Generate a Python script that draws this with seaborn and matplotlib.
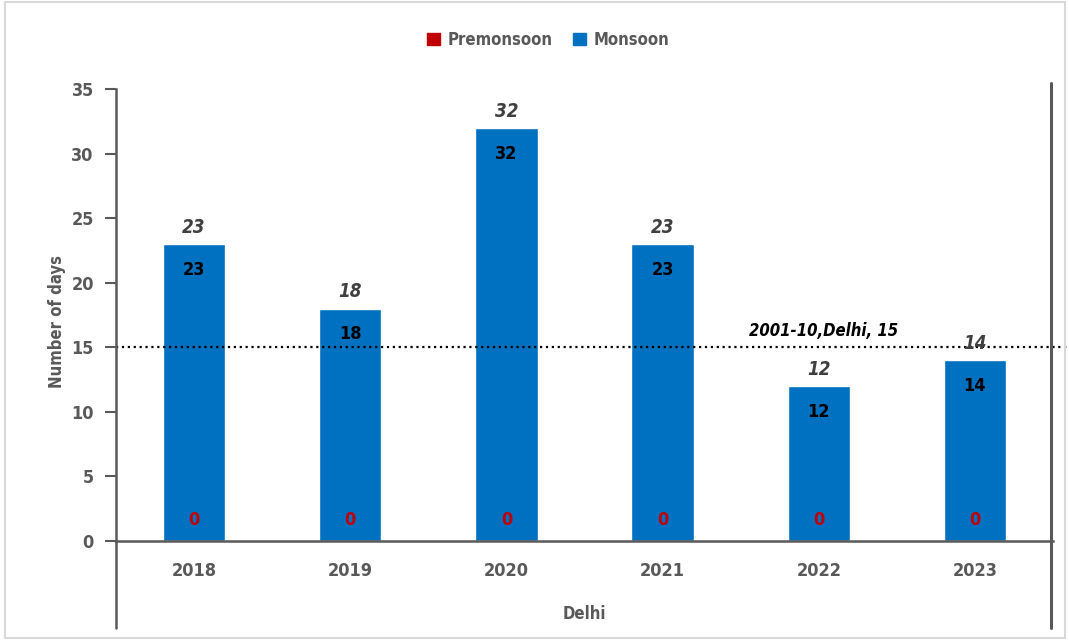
import pandas as pd
import numpy as np
import seaborn as sns
import matplotlib.pyplot as plt
from matplotlib.patches import Patch, Rectangle

years = ['2018', '2019', '2020', '2021', '2022', '2023']
premonsoon = [0, 0, 0, 0, 0, 0]
monsoon = [23, 18, 32, 23, 12, 14]
totals = [23, 18, 32, 23, 12, 14]
baseline = 15
baseline_label = '2001-10,Delhi, 15'

df = pd.DataFrame({'Year': years, 'Premonsoon': premonsoon, 'Monsoon': monsoon})

sns.set_style('white')
plt.rcParams['font.family'] = ['DejaVu Sans']
plt.rcParams['font.stretch'] = 'condensed'

blue = '#0070C0'
red = '#C00000'
grey = '#595959'

fig = plt.figure(figsize=(10.69, 6.42), dpi=100)
ax = fig.add_axes([116 / 1069, 101 / 642, 937 / 1069, 452 / 642])

sns.barplot(x='Year', y='Monsoon', data=df, color=blue, width=0.4, ax=ax,
            bottom=df['Premonsoon'], saturation=1)
sns.barplot(x='Year', y='Premonsoon', data=df, color=red, width=0.4, ax=ax, saturation=1)

ax.set_ylim(0, 35)
ax.set_xlim(-0.5, 5.5)
ax.set_yticks(range(0, 36, 5))

for i, (p, m, t) in enumerate(zip(premonsoon, monsoon, totals)):
    ax.text(i, p + m - 2.0, str(m), ha='center', va='center', fontsize=13,
            fontweight='bold', color='black')
    ax.text(i, 1.6, str(p), ha='center', va='center', fontsize=13,
            fontweight='bold', color=red)
    ax.text(i, t + 0.55, str(t), ha='center', va='bottom', fontsize=13.5,
            style='italic', fontweight='bold', color='#404040')

# baseline
ax.plot([0, 1.017], [baseline, baseline], transform=ax.get_yaxis_transform(),
        color='black', linestyle=':', linewidth=1.6, clip_on=False)
ax.text(4.03, baseline + 0.6, baseline_label, ha='center', va='bottom', fontsize=12,
        style='italic', fontweight='bold', color='black')

for s in ['top', 'right']:
    ax.spines[s].set_visible(False)
for s in ['left', 'bottom']:
    ax.spines[s].set_color(grey)
    ax.spines[s].set_linewidth(1.8)
ax.spines['left'].set_bounds(0, 35)

ax.tick_params(axis='y', length=8, width=1.5, color=grey, labelsize=13, labelcolor=grey,
               left=True, pad=8)
ax.tick_params(axis='x', length=0, labelsize=13, labelcolor=grey, pad=15)
for lab in ax.get_xticklabels() + ax.get_yticklabels():
    lab.set_fontweight('bold')

ax.set_xlabel('Delhi', fontsize=12, color=grey, fontweight='bold', labelpad=18)
ax.set_ylabel('Number of days', fontsize=12, color=grey, fontweight='bold')
ax.yaxis.set_label_coords(-0.053, 0.485)

# category group lines
fig.add_artist(plt.Line2D([116 / 1069, 116 / 1069], [14 / 642, 101 / 642], color=grey, lw=1.8))
fig.add_artist(plt.Line2D([1051 / 1069, 1051 / 1069], [14 / 642, 559 / 642], color=grey, lw=2.2))

# frame
fig.add_artist(Rectangle((5 / 1069, 4 / 642), 1060 / 1069, 636 / 642, transform=fig.transFigure,
                         fill=False, edgecolor='#D9D9D9', lw=1.5))

handles = [Patch(color=red, label='Premonsoon'), Patch(color=blue, label='Monsoon')]
leg = fig.legend(handles=handles, loc='center', bbox_to_anchor=(0.513, 0.938), ncol=2,
                 frameon=False, fontsize=12, handlelength=0.75, handleheight=0.75,
                 handletextpad=0.5, columnspacing=1.2)
for t in leg.get_texts():
    t.set_color(grey)
    t.set_fontweight('bold')

fig.savefig('out.png', dpi=100)
